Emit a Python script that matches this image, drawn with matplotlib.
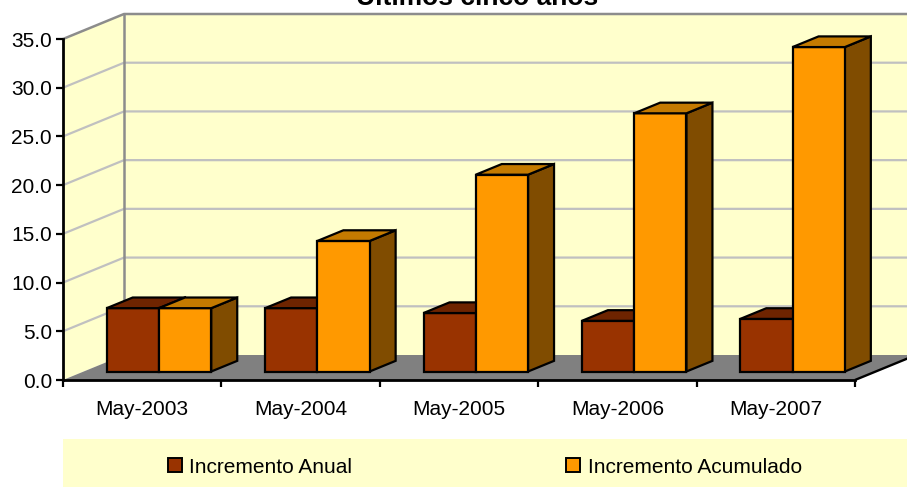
import matplotlib
matplotlib.use("Agg")
import matplotlib.pyplot as plt
from matplotlib.patches import Polygon, Rectangle
from matplotlib.transforms import offset_copy

# ------------------------------------------------------------
# datos
# ------------------------------------------------------------
categorias = ["May-2003", "May-2004", "May-2005", "May-2006", "May-2007"]
incremento_anual = [6.5, 6.5, 6.0, 5.2, 5.4]
incremento_acumulado = [6.5, 13.4, 20.2, 26.5, 33.3]
series = ["Incremento Anual", "Incremento Acumulado"]
y_ticks = [0, 5, 10, 15, 20, 25, 30, 35]
titulo = "Últimos cinco años"

plt.rcParams['font.family'] = ['Liberation Sans', 'DejaVu Sans']

# colores estilo Excel 2003
PARED = '#FFFFCC'
REJILLA = '#C0C0C0'
BORDE_PARED = '#8C8C8C'
SUELO = '#808080'
col_anual = ('#993300', '#6E2400', '#4D1A00')        # frente, tapa, lado
col_acum = ('#FF9900', '#C47A00', '#804C00')

W, H = 907, 487
fig = plt.figure(figsize=(W / 100, H / 100), dpi=100)
# plano frontal de la caja 3D
ax = fig.add_axes([63 / W, 1 - 380 / H, 792 / W, 341 / H])
ncat = len(categorias)
ymax = y_ticks[-1]
ax.set_xlim(0, ncat)
ax.set_ylim(0, ymax)
ax.patch.set_visible(False)

# profundidad de la proyeccion oblicua, en unidades de datos
DX = 61 / (792 / ncat)
DY = 25 / (341 / ymax)


def proj(x, v, z):
    return (x + z * DX, v + z * DY)


def poly(pts, fc, ec='none', lw=0, z=1):
    ax.add_patch(Polygon(pts, closed=True, fc=fc, ec=ec, lw=lw,
                         joinstyle='miter', clip_on=False, zorder=z))


def linea(pts, color, lw, z=1.1):
    xs = [p[0] for p in pts]
    ys = [p[1] for p in pts]
    ax.plot(xs, ys, color=color, lw=lw, clip_on=False, zorder=z,
            solid_capstyle='butt')


# paredes
poly([proj(0, 0, 1), proj(ncat, 0, 1), proj(ncat, ymax, 1), proj(0, ymax, 1)], PARED, z=0.5)
poly([proj(0, 0, 0), proj(0, 0, 1), proj(0, ymax, 1), proj(0, ymax, 0)], PARED, z=0.5)

# rejilla
for v in y_ticks[1:-1]:
    linea([proj(0, v, 0), proj(0, v, 1), proj(ncat, v, 1)], REJILLA, 1.6)
linea([proj(0, ymax, 0), proj(0, ymax, 1), proj(ncat, ymax, 1)], BORDE_PARED, 1.8)
linea([proj(0, 0, 1), proj(0, ymax, 1)], BORDE_PARED, 1.8)

# suelo
poly([proj(0, 0, 0), proj(ncat, 0, 0), proj(ncat, 0, 1), proj(0, 0, 1)], SUELO, z=1.2)
linea([proj(ncat, 0, 0), proj(ncat, 0, 1)], 'black', 1.7, z=1.3)


def caja(x0, x1, h, cols, z0=0.34, z1=0.766):
    frente, tapa, lado = cols
    kw = dict(ec='black', lw=1.6, z=2)
    poly([proj(x1, 0, z0), proj(x1, 0, z1), proj(x1, h, z1), proj(x1, h, z0)], lado, **kw)
    poly([proj(x0, 0, z0), proj(x1, 0, z0), proj(x1, h, z0), proj(x0, h, z0)], frente, **kw)
    poly([proj(x0, h, z0), proj(x1, h, z0), proj(x1, h, z1), proj(x0, h, z1)], tapa, **kw)


ancho = 0.33
inicio = 0.145
for i in range(ncat):
    x0 = i + inicio
    caja(x0, x0 + ancho, incremento_anual[i], col_anual)
    caja(x0 + ancho, x0 + 2 * ancho, incremento_acumulado[i], col_acum)

# ejes
for s in ['top', 'right']:
    ax.spines[s].set_visible(False)
for s in ['left', 'bottom']:
    ax.spines[s].set_linewidth(2.0)
    ax.spines[s].set_zorder(3)

ax.set_yticks(y_ticks)
ax.set_yticklabels([f"{v:.1f}" for v in y_ticks])
ax.tick_params(axis='y', direction='out', length=5, width=1.6, pad=3, labelsize=15)
ax.set_xticks(range(ncat + 1))
ax.set_xticklabels([])
ax.tick_params(axis='x', direction='out', length=5, width=1.6)

trans_lab = offset_copy(ax.transData, fig=fig, y=-35, units='dots')
for i, c in enumerate(categorias):
    ax.text(i + 0.5, 0, c, transform=trans_lab, ha='center', va='baseline', fontsize=15)

# titulo (cortado por arriba, como en la imagen)
fig.text(477.5 / W, 1 - 5 / H, titulo, ha='center', va='baseline',
         fontsize=19, fontweight='bold')

# leyenda
fig.patches.append(Rectangle((63 / W, 0), 1, 48 / H, transform=fig.transFigure,
                             fc=PARED, ec='none', zorder=0))
for (xm, xt), nombre, cols in zip([(168, 189), (566, 588)], series, [col_anual, col_acum]):
    fig.patches.append(Rectangle((xm / W, (487 - 472) / H), 14 / W, 14 / H,
                                 transform=fig.transFigure, fc=cols[0], ec='black',
                                 lw=1.4, zorder=1))
    fig.text(xt / W, (487 - 473) / H, nombre, ha='left', va='baseline', fontsize=15)

fig.savefig('out.png', dpi=100)
